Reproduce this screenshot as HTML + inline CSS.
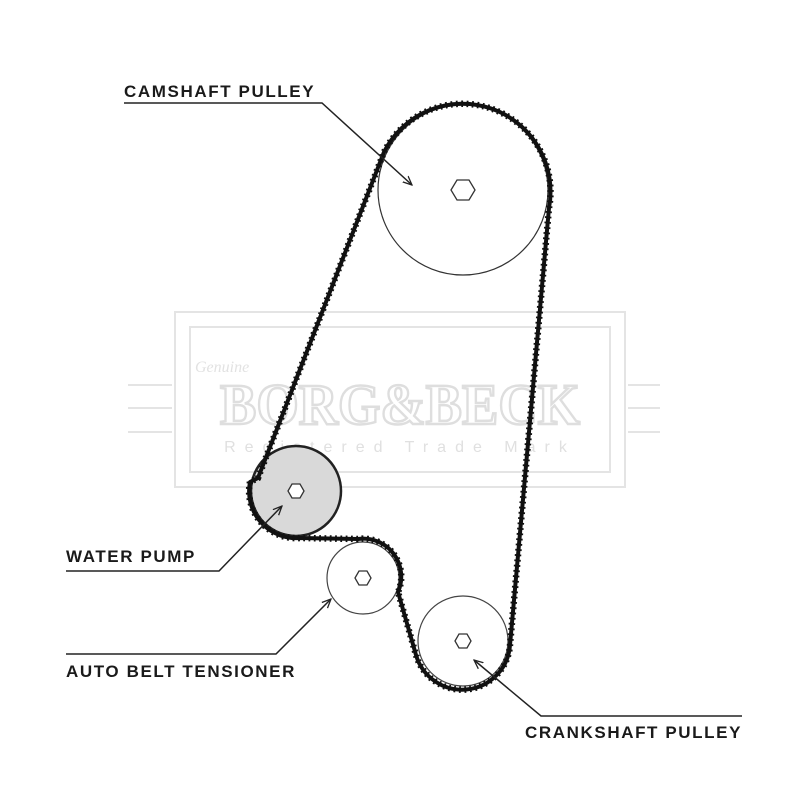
<!DOCTYPE html>
<html><head><style>
body{margin:0;background:#fff}
svg{display:block}
.t{font-family:"Liberation Sans",sans-serif;font-weight:bold;font-size:17px;letter-spacing:1.6px;fill:#1a1a1a}
</style></head><body>
<svg width="800" height="800" viewBox="0 0 800 800" xmlns="http://www.w3.org/2000/svg">
<defs>
<marker id="ar" markerWidth="10" markerHeight="10" refX="9" refY="5" orient="auto" markerUnits="userSpaceOnUse">
<path d="M0,1 L9,5 L0,9" fill="none" stroke="#222" stroke-width="1.3"/>
</marker>
</defs>
<g fill="none" stroke="#e4e4e4" stroke-width="2">
<rect x="175" y="312" width="450" height="175"/>
<rect x="190" y="327" width="420" height="145"/>
<path d="M128,385 H172 M128,408 H172 M128,432 H172 M628,385 H660 M628,408 H660 M628,432 H660"/>
</g>
<text x="400" y="424" text-anchor="middle" font-family="Liberation Serif,serif" font-weight="bold" font-size="58" fill="none" stroke="#dedede" stroke-width="2.5" textLength="360" lengthAdjust="spacingAndGlyphs">BORG&amp;BECK</text>
<text x="400" y="452" text-anchor="middle" font-family="Liberation Sans,sans-serif" font-size="16" fill="#e0e0e0" letter-spacing="9">Registered Trade Mark</text>
<text x="195" y="372" font-family="Liberation Serif,serif" font-style="italic" font-size="16" fill="#e2e2e2">Genuine</text>
<circle cx="463" cy="190" r="85" fill="#fff" stroke="#333" stroke-width="1.2"/>
<circle cx="296" cy="491" r="45" fill="#d9d9d9" stroke="#222" stroke-width="2.5"/>
<circle cx="363" cy="578" r="36" fill="#fff" stroke="#444" stroke-width="1.2"/>
<circle cx="463" cy="641" r="45" fill="#fff" stroke="#444" stroke-width="1.2"/>
<g fill="#fff" stroke="#333" stroke-width="1.3">
<polygon points="451,190 457,180 469,180 475,190 469,200 457,200"/>
<polygon points="288,491 292,484 300,484 304,491 300,498 292,498"/>
<polygon points="355,578 359,571 367,571 371,578 367,585 359,585"/>
<polygon points="455,641 459,634 467,634 471,641 467,648 459,648"/>
</g>
<path d="M258,478 L384,152 A88,88 0 0 1 549,208 L510,645 A48,48 0 0 1 416,655 L398,592 A38,38 0 0 0 358,539 L300,538 A47,47 0 0 1 250,482 Z" fill="none" stroke="#111" stroke-width="4" stroke-linejoin="round"/>
<path d="M258,478 L384,152 A88,88 0 0 1 549,208 L510,645 A48,48 0 0 1 416,655 L398,592 A38,38 0 0 0 358,539 L300,538 A47,47 0 0 1 250,482 Z" fill="none" stroke="#111" stroke-width="6.5" stroke-dasharray="1.8 3.5"/>
<g fill="none" stroke="#222" stroke-width="1.5">
<path d="M124,103 H322 L412,185" marker-end="url(#ar)"/>
<path d="M66,571 H219 L282,506" marker-end="url(#ar)"/>
<path d="M66,654 H276 L331,599" marker-end="url(#ar)"/>
<path d="M742,716 H541 L474,660" marker-end="url(#ar)"/>
</g>
<text class="t" x="124" y="97">CAMSHAFT PULLEY</text>
<text class="t" x="66" y="562">WATER PUMP</text>
<text class="t" x="66" y="677">AUTO BELT TENSIONER</text>
<text class="t" x="525" y="738">CRANKSHAFT PULLEY</text>
</svg>
</body></html>
